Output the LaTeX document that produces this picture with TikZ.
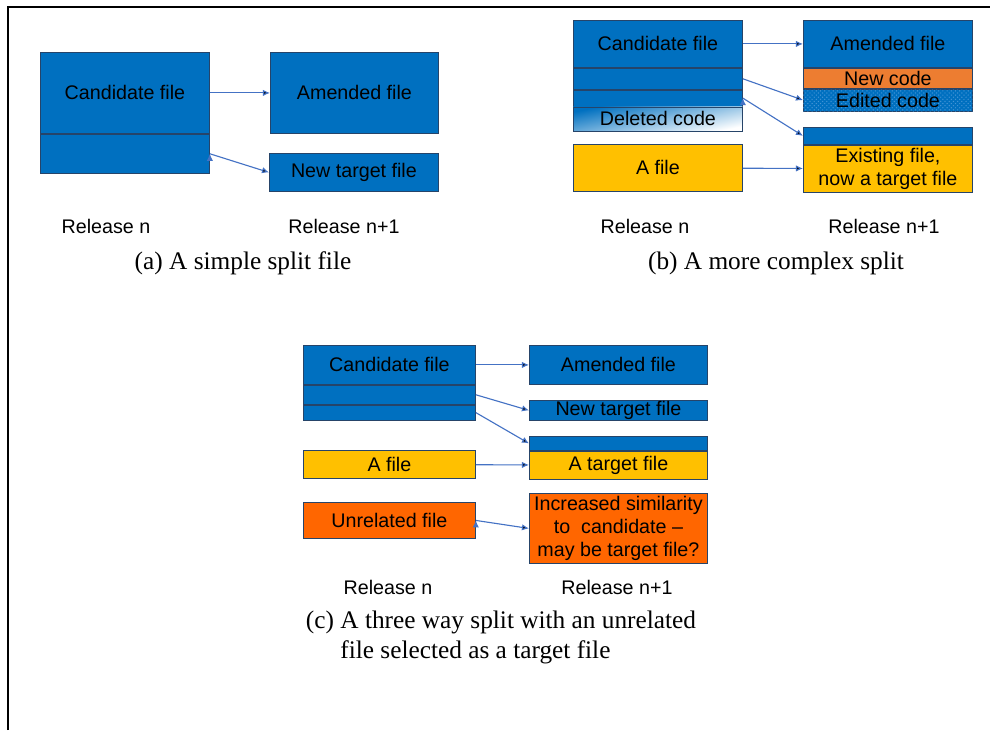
\documentclass[tikz,border=0pt]{standalone}
\usepackage{fontspec}
\setmainfont{Liberation Serif}
\setsansfont{Liberation Sans}
\usetikzlibrary{arrows.meta, positioning, patterns}

\definecolor{boxblue}{RGB}{0,112,192}
\definecolor{boxline}{RGB}{38,68,105}
\definecolor{fileyellow}{RGB}{255,192,0}
\definecolor{codeorange}{RGB}{237,125,49}
\definecolor{unrelorange}{RGB}{255,102,0}
\definecolor{arrowblue}{RGB}{68,114,196}
\definecolor{dotblue}{RGB}{70,150,215}

\tikzset{
  file/.style={draw=boxline, line width=0.6pt, fill=boxblue, inner sep=0pt,
    align=center, font=\sffamily\fontsize{14}{16.6}\selectfont},
  sz/.style 2 args={minimum width=#1*0.025cm, minimum height=#2*0.025cm},
  rel/.style={font=\sffamily\fontsize{14}{16.6}\selectfont},
  subcap/.style={font=\fontsize{18}{21.4}\selectfont},
  link/.style={draw=arrowblue, line width=0.8pt, -{Latex[length=5pt, width=4.5pt]}},
}

\begin{document}
\begin{tikzpicture}[x=0.025cm, y=-0.025cm]
  \useasboundingbox (0,0) rectangle (990,730);
  \draw[line width=1pt] (8,730) -- (8,7) -- (990,7);

  % (a) simple split
  \node[file, sz={169}{81}, anchor=north west] (candA) at (40,52) {Candidate file};
  \node[file, sz={169}{39}, below=0pt of candA] (candA2) {};
  \node[file, sz={168}{81}, anchor=north west] (amendA) at (270,52) {Amended file};
  \node[file, sz={169}{38}, anchor=north west] (ntA) at (269,153) {New target file};

  \path[link] (candA) edge (amendA) (candA2.east) edge (ntA.west);

  \node[rel] (relA) at (106,226) {Release n};
  \node[rel] (relA1) at (344,226) {Release n+1};
  \node[subcap] (capA) at (243,263) {(a) A simple split file};

  % (b) more complex split
  \node[file, sz={169}{47}, anchor=north west] (candB) at (573,20) {Candidate file};
  \node[file, sz={169}{21}, below=0pt of candB] (candB2) {};
  \node[file, sz={169}{16}, below=0pt of candB2] (candB3) {};
  \node[file, sz={169}{24}, below=0pt of candB3, top color=boxblue,
    middle color=boxblue, bottom color=white, shading angle=12] (delB) {Deleted code};
  \node[file, sz={169}{47}, anchor=north west, fill=fileyellow] (afileB) at (573,144) {A file};

  \node[file, sz={169}{47}, anchor=north west] (amendB) at (803,20) {Amended file};
  \node[file, sz={169}{20}, below=0pt of amendB, fill=codeorange] (newB) {New code};
  \node[file, sz={169}{22}, below=0pt of newB,
    postaction={pattern=crosshatch dots, pattern color=dotblue}] (editB) {Edited code};
  \node[file, sz={169}{17}, anchor=north west] (tgtB) at (803,127) {};
  \node[file, sz={169}{47}, below=0pt of tgtB, fill=fileyellow] (existB)
    {Existing file,\\now a target file};

  \path[link] (candB) edge (amendB)
    (candB2.east) edge (editB.west)
    (candB3.east) edge (tgtB.west)
    (afileB) edge (existB);

  \node[rel] (relB) at (645,226) {Release n};
  \node[rel] (relB1) at (884,226) {Release n+1};
  \node[subcap] (capB) at (776,263) {(b) A more complex split};

  % (c) three way split
  \node[file, sz={172}{39}, anchor=north west] (candC) at (303,345) {Candidate file};
  \node[file, sz={172}{19}, below=0pt of candC] (candC2) {};
  \node[file, sz={172}{15}, below=0pt of candC2] (candC3) {};
  \node[file, sz={172}{28}, anchor=north west, fill=fileyellow] (afileC) at (303,450) {A file};
  \node[file, sz={172}{36}, anchor=north west, fill=unrelorange] (unrelC) at (303,502) {Unrelated file};

  \node[file, sz={178}{39}, anchor=north west] (amendC) at (529,345) {Amended file};
  \node[file, sz={178}{20}, anchor=north west] (ntC) at (529,400) {New target file};
  \node[file, sz={178}{14}, anchor=north west] (tgtC) at (529,436) {};
  \node[file, sz={178}{28}, below=0pt of tgtC, fill=fileyellow] (atgtC) {A target file};
  \node[file, sz={178}{70}, anchor=north west, fill=unrelorange] (simC) at (529,493)
    {Increased similarity\\to~~candidate –\\may be target file?};

  \path[link] (candC) edge (amendC)
    (candC2.east) edge (ntC.west)
    (candC3.east) edge (tgtC.west)
    (afileC) edge (atgtC)
    (unrelC.east) edge (simC.west);

  \node[rel] (relC) at (388,587) {Release n};
  \node[rel] (relC1) at (617,587) {Release n+1};
  \node[subcap, anchor=west, align=left] (capC) at (301,637)
    {(c) A three way split with an unrelated\\\phantom{(c)}\ file selected as a target file};
\end{tikzpicture}
\end{document}
